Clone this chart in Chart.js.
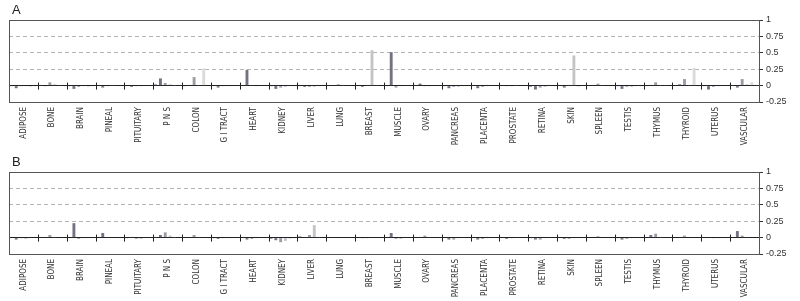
<!DOCTYPE html>
<html lang="en">
  <head>
    <meta charset="UTF-8" />
    <title>Tissue expression panels A and B</title>
    <script src="https://cdn.jsdelivr.net/npm/chart.js@4.4.1/dist/chart.umd.min.js"></script>
    <style>
      body { margin: 0; background: #fff; width: 800px; height: 301px; position: relative; overflow: hidden; }
      .panel { position: absolute; left: 0; width: 800px; }
      .tag { position: absolute; left: 12px; font: 13px "Liberation Sans", Arial, sans-serif; color: #222; }
    </style>
  </head>
  <body>
    <div class="panel" style="top:0;height:150px"><canvas id="chartA"></canvas></div>
    <div class="panel" style="top:150px;height:151px"><canvas id="chartB"></canvas></div>
    <div class="tag" style="top:2px">A</div>
    <div class="tag" style="top:154px">B</div>

    <script>
      const tissues = ['ADIPOSE', 'BONE', 'BRAIN', 'PINEAL', 'PITUITARY', 'P N S', 'COLON', 'G I TRACT',
        'HEART', 'KIDNEY', 'LIVER', 'LUNG', 'BREAST', 'MUSCLE', 'OVARY', 'PANCREAS', 'PLACENTA',
        'PROSTATE', 'RETINA', 'SKIN', 'SPLEEN', 'TESTIS', 'THYMUS', 'THYROID', 'UTERUS', 'VASCULAR'];
      const yTicks = [-0.25, 0, 0.25, 0.5, 0.75, 1];
      const yTickLabels = ['-0.25', '0', '0.25', '0.5', '0.75', '1'];

      // panel A, six series per tissue
      const a1 = [-0.01, 0.01, -0.01, 0, 0, 0.02, -0.01, 0, 0, -0.01, -0.01, 0, 0, 0, 0.01, -0.01, 0, 0, -0.02, 0, 0, -0.01, 0, 0, -0.01, 0.01];
      const a2 = [-0.04, -0.01, -0.05, -0.03, -0.02, 0.11, 0.01, -0.03, 0.24, -0.05, -0.02, 0.01, -0.02, 0.51, 0.03, -0.04, -0.04, -0.01, -0.06, -0.03, 0.01, -0.05, 0.01, 0.02, -0.06, -0.03];
      const a3 = [-0.01, 0.05, -0.02, -0.01, -0.01, 0.04, 0.13, -0.01, 0.01, -0.03, -0.02, 0.02, 0.01, -0.03, -0.01, -0.02, -0.02, -0.01, -0.03, 0.01, 0.03, -0.02, 0.05, 0.1, -0.02, 0.1];
      const a4 = [-0.01, 0.02, -0.01, 0.01, -0.01, 0.02, 0.01, -0.01, -0.01, -0.02, -0.02, 0.01, 0.54, -0.01, -0.01, -0.02, -0.01, 0.01, -0.02, 0.46, 0.01, -0.02, 0.01, 0.01, -0.01, 0.02];
      const a5 = [-0.02, 0.01, -0.02, 0, -0.01, 0.01, 0.26, -0.01, 0, -0.01, -0.01, 0, 0.01, 0, -0.01, -0.01, -0.01, 0, -0.01, -0.02, 0, -0.01, 0.01, 0.27, -0.01, 0.05];
      const a6 = [-0.01, 0, -0.01, 0, 0, 0.01, 0, 0, 0, -0.01, 0, 0, 0, 0, 0, 0, 0, 0, -0.01, 0, 0, -0.01, 0, -0.01, 0, 0.01];

      // panel B
      const b1 = [0, 0.01, 0, 0, -0.01, 0.01, 0, -0.01, 0, -0.02, 0.02, 0, 0, 0, 0, 0, 0, 0, -0.01, 0, 0, -0.01, 0, 0, 0, 0];
      const b2 = [-0.03, 0.01, 0.22, 0.07, 0.01, 0.04, 0.01, -0.02, -0.03, -0.04, 0.01, 0.01, -0.01, 0.07, 0.01, -0.03, -0.03, -0.02, -0.03, -0.02, 0, -0.03, 0.04, 0, 0, 0.1];
      const b3 = [-0.01, 0.04, -0.02, 0.01, -0.02, 0.08, 0.04, -0.01, -0.02, -0.07, 0.04, 0, -0.01, -0.02, 0.03, -0.03, -0.02, -0.01, -0.03, -0.02, 0.02, -0.02, 0.06, 0.03, -0.01, 0.03];
      const b4 = [-0.02, 0.01, -0.01, 0, -0.02, 0.03, 0.01, -0.01, -0.01, -0.05, 0.19, 0, 0, -0.02, 0.01, -0.01, -0.01, 0, -0.01, -0.01, 0, -0.01, 0.01, 0, -0.01, 0.01];
      const b5 = [-0.01, 0, -0.01, 0, -0.01, 0.01, 0, -0.01, 0, -0.02, 0.01, 0, 0, -0.01, 0, 0, -0.01, 0, 0, -0.01, 0, 0, 0, 0, 0, 0];
      const b6 = [0, 0, 0, 0, 0, 0, 0, 0, 0, -0.01, 0, 0, 0, 0, 0, 0, 0, 0, 0, 0, 0, 0, 0, 0, 0, 0];

      const colors = ['#8c8c9c', '#727382', '#9c9ca4', '#c4c4c8', '#dadada', '#b8b8c0'];

      // box round the plot area + short ticks on the zero line between tissues
      const framePlugin = {
        id: 'frame',
        afterDraw(chart) {
          const { ctx, chartArea: ca, scales } = chart;
          const x = scales.x, y = scales.y;
          const y0 = y.getPixelForValue(0);
          ctx.save();
          ctx.strokeStyle = '#222';
          ctx.lineWidth = 1;
          ctx.beginPath();
          for (let i = 1; i < tissues.length; i++) {
            const px = Math.round((x.getPixelForValue(i - 1) + x.getPixelForValue(i)) / 2) + 0.5;
            ctx.moveTo(px, y0 - 3);
            ctx.lineTo(px, y0 + 4);
          }
          ctx.stroke();
          ctx.strokeStyle = '#555';
          ctx.strokeRect(Math.round(ca.left) + 0.5, Math.round(ca.top) + 0.5,
            Math.round(ca.right - ca.left), Math.round(ca.bottom - ca.top));
          ctx.restore();
        }
      };

      function makeChart(id, series, padTop, xHeight) {
        new Chart(document.getElementById(id), {
          type: 'bar',
          data: {
            labels: tissues,
            datasets: series.map((s, i) => ({
              data: s,
              backgroundColor: colors[i],
              categoryPercentage: 1,
              barPercentage: 0.6
            }))
          },
          options: {
            responsive: true,
            maintainAspectRatio: false,
            animation: false,
            layout: { padding: { left: 9, top: padTop, right: 0, bottom: 0 } },
            plugins: { legend: { display: false }, tooltip: { enabled: false } },
            scales: {
              x: {
                grid: { display: false },
                border: { display: false },
                ticks: {
                  autoSkip: false,
                  minRotation: 90,
                  maxRotation: 90,
                  padding: -3,
                  color: '#333',
                  font: { family: '"Liberation Sans Narrow", "DejaVu Sans Condensed", Arial, sans-serif', size: 8 }
                },
                afterFit(scale) { scale.height = xHeight; }
              },
              y: {
                position: 'right',
                min: -0.25,
                max: 1,
                afterBuildTicks(scale) { scale.ticks = yTicks.map(v => ({ value: v })); },
                ticks: {
                  padding: 3,
                  color: '#333',
                  font: { family: '"Liberation Sans", Arial, sans-serif', size: 9 },
                  callback: (v) => yTickLabels[yTicks.indexOf(v)]
                },
                grid: {
                  color: (c) => {
                    const v = c.tick ? c.tick.value : null;
                    if (v === 0) return '#222';
                    if (v === 1 || v === -0.25) return 'rgba(0,0,0,0)';
                    return '#b4b4b4';
                  },
                  tickColor: '#333',
                  tickLength: 4,
                  lineWidth: 1
                },
                border: {
                  color: '#555',
                  dash: (c) => (c.tick && c.tick.value !== 0 ? [4, 3] : [])
                },
                afterFit(scale) { scale.width = 41; }
              }
            }
          },
          plugins: [framePlugin]
        });
      }

      makeChart('chartA', [a1, a2, a3, a4, a5, a6], 20, 48);
      makeChart('chartB', [b1, b2, b3, b4, b5, b6], 22, 47);
    </script>
  </body>
</html>
